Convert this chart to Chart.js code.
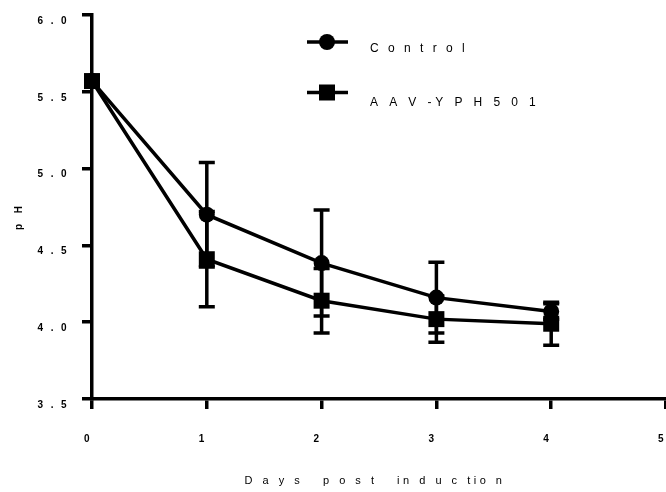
<!DOCTYPE html>
<html>
<head>
<meta charset="utf-8">
<script src="https://cdn.jsdelivr.net/npm/chart.js@4/dist/chart.umd.min.js"></script>
<style>
  html, body { margin: 0; padding: 0; background: #fff; }
  #wrap { width: 666px; height: 492px; }
</style>
</head>
<body>
<div id="wrap"><canvas id="c" width="666" height="492"></canvas></div>
<script>
// pH of the culture over the days after induction (mean ± error)
const days = [0, 1, 2, 3, 4];
const controlMean = [5.57, 4.70, 4.385, 4.16, 4.07];
const controlErr  = [0, 0.34, 0.345, 0.23, 0.05];
const aavMean     = [5.57, 4.41, 4.14, 4.02, 3.99];
const aavErr      = [0, 0.31, 0.21, 0.15, 0.14];

const seriesNames = ['C o n t r o l', 'A A V -Y P H 5 0 1'];
const xTicks = [0, 1, 2, 3, 4, 5];
const xTickLabels = ['0', '1', '2', '3', '4', '5'];
const yTicks = [3.5, 4.0, 4.5, 5.0, 5.5, 6.0];
const yTickLabels = ['3 . 5', '4 . 0', '4 . 5', '5 . 0', '5 . 5', '6 . 0'];
const xTitle = 'D a y s   p o s t   in d u c tio n';
const yTitle = 'p H';

const FONT = 'Arial, "Liberation Sans", sans-serif';
const INK = '#000';

const toPoints = (xs, ys) => xs.map((x, i) => ({ x, y: ys[i] }));

// vertical error bars with caps, drawn under the markers
const errorBars = {
  id: 'errorBars',
  beforeDatasetsDraw(chart) {
    const { ctx, scales: { x, y } } = chart;
    ctx.save();
    ctx.letterSpacing = '0px';
    ctx.strokeStyle = INK;
    ctx.lineWidth = 3.5;
    chart.data.datasets.forEach(ds => {
      ds.data.forEach((p, i) => {
        const e = ds.errors[i];
        if (!e) return;
        const px = x.getPixelForValue(p.x);
        const top = y.getPixelForValue(p.y + e);
        const bot = y.getPixelForValue(p.y - e);
        ctx.beginPath();
        ctx.moveTo(px, top); ctx.lineTo(px, bot);
        ctx.moveTo(px - 8, top); ctx.lineTo(px + 8, top);
        ctx.moveTo(px - 8, bot); ctx.lineTo(px + 8, bot);
        ctx.stroke();
      });
    });
    ctx.restore();
  }
};

// tracked-out lettering for the tick labels
const tickTracking = {
  id: 'tickTracking',
  beforeDraw(chart) { chart.ctx.letterSpacing = '2.4px'; },
  beforeDatasetsDraw(chart) { chart.ctx.letterSpacing = '0px'; }
};

// legend block and axis titles
const annotations = {
  id: 'annotations',
  afterDraw(chart) {
    const ctx = chart.ctx;
    ctx.save();
    ctx.fillStyle = INK;
    ctx.strokeStyle = INK;

    // legend
    const rows = [
      { y: 42, textY: 48.5, style: 'circle', spacing: '3px' },
      { y: 92.5, textY: 102.5, style: 'rect', spacing: '3.9px' }
    ];
    rows.forEach((r, i) => {
      ctx.lineWidth = 3.5;
      ctx.beginPath();
      ctx.moveTo(307, r.y); ctx.lineTo(348, r.y);
      ctx.stroke();
      if (r.style === 'circle') {
        ctx.beginPath();
        ctx.arc(327, r.y, 8, 0, Math.PI * 2);
        ctx.fill();
      } else {
        ctx.fillRect(319, r.y - 8, 16, 16);
      }
      ctx.letterSpacing = r.spacing;
      ctx.font = '12px ' + FONT;
      ctx.textAlign = 'left';
      ctx.textBaseline = 'middle';
      ctx.fillText(seriesNames[i], 370, r.textY);
    });

    // x title
    ctx.letterSpacing = '3.5px';
    ctx.font = '11px ' + FONT;
    ctx.textAlign = 'center';
    ctx.textBaseline = 'middle';
    ctx.fillText(xTitle, 375, 481);

    // y title
    ctx.save();
    ctx.translate(19, 216);
    ctx.rotate(-Math.PI / 2);
    ctx.letterSpacing = '4px';
    ctx.font = 'bold 10px ' + FONT;
    ctx.fillText(yTitle, 0, 0);
    ctx.restore();

    ctx.restore();
  }
};

const axisGrid = {
  display: true,
  drawOnChartArea: false,
  drawTicks: true,
  tickLength: 10,
  tickWidth: 3.5,
  tickColor: INK,
  color: INK,
  lineWidth: 3.5
};

new Chart(document.getElementById('c'), {
  type: 'line',
  data: {
    datasets: [
      {
        label: seriesNames[0],
        data: toPoints(days, controlMean),
        errors: controlErr,
        borderColor: INK,
        borderWidth: 3.5,
        pointStyle: 'circle',
        pointRadius: 8,
        pointBackgroundColor: INK,
        pointBorderWidth: 0,
        tension: 0,
        clip: false,
        order: 1
      },
      {
        label: seriesNames[1],
        data: toPoints(days, aavMean),
        errors: aavErr,
        borderColor: INK,
        borderWidth: 3.5,
        pointStyle: 'rect',
        pointRadius: 11.3,
        pointBackgroundColor: INK,
        pointBorderWidth: 0,
        tension: 0,
        clip: false,
        order: 0
      }
    ]
  },
  options: {
    responsive: false,
    animation: false,
    devicePixelRatio: 1,
    layout: { autoPadding: false, padding: { top: 15, right: 0, left: 0, bottom: 0 } },
    plugins: { legend: { display: false }, tooltip: { enabled: false } },
    scales: {
      x: {
        type: 'linear',
        min: 0,
        max: 5,
        afterBuildTicks: s => { s.ticks = xTicks.map(v => ({ value: v })); },
        afterFit: s => { s.height = 93; s.paddingLeft = 0; s.paddingRight = 0; },
        border: { display: true, color: INK, width: 3.5 },
        grid: axisGrid,
        ticks: {
          color: INK,
          font: { family: FONT, size: 10, weight: 'bold' },
          padding: 24,
          labelOffset: -4,
          maxRotation: 0,
          autoSkip: false,
          callback: (v, i) => xTickLabels[i]
        }
      },
      y: {
        type: 'linear',
        min: 3.5,
        max: 6.0,
        afterBuildTicks: s => { s.ticks = yTicks.map(v => ({ value: v })); },
        afterFit: s => { s.width = 92; s.paddingTop = 0; s.paddingBottom = 0; },
        border: { display: true, color: INK, width: 3.5 },
        grid: axisGrid,
        ticks: {
          color: INK,
          font: { family: FONT, size: 10, weight: 'bold' },
          padding: 13,
          labelOffset: 6,
          autoSkip: false,
          callback: (v, i) => yTickLabels[i]
        }
      }
    }
  },
  plugins: [tickTracking, errorBars, annotations]
});
</script>
</body>
</html>
